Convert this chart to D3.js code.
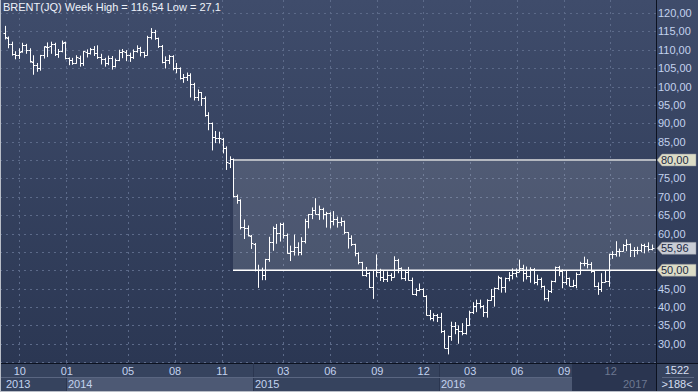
<!DOCTYPE html>
<html><head><meta charset="utf-8">
<script src="https://cdn.jsdelivr.net/npm/d3@7"></script>
<style>body{margin:0;background:#fff}svg{display:block}text{font-family:"Liberation Sans",Arial,sans-serif}</style>
</head><body><svg id="c" width="698" height="392"></svg>
<script>
// ---- data (weekly OHLC, Brent) ----
const firstWeek = "2013-09-02";
const opens = [114.5,113.3,111.6,108.9,108.5,109.6,111.2,109.8,106.8,105.9,105.0,108.5,110.8,110.9,111.5,108.8,109.6,112.0,107.8,107.2,106.4,107.8,106.3,109.5,109.0,110.1,109.0,108.0,107.4,106.4,107.7,105.7,107.2,109.5,109.5,108.6,107.9,109.7,110.4,109.4,108.6,113.4,114.8,113.2,110.9,106.7,107.2,108.3,105.0,104.9,102.2,102.6,103.1,100.7,97.1,98.4,96.9,92.3,90.1,86.3,86.0,85.8,83.3,79.3,80.3,70.1,69.0,61.8,61.4,59.4,57.2,50.0,50.1,48.8,53.0,57.8,61.5,60.2,62.6,59.7,54.7,55.3,56.4,55.0,57.9,63.5,65.3,66.5,65.4,66.8,65.4,65.6,63.3,63.9,63.0,63.3,60.3,58.7,57.1,54.6,52.2,48.6,49.2,45.5,50.1,49.6,48.1,47.5,48.6,48.1,52.7,50.5,48.0,49.6,47.4,43.6,44.7,44.9,43.0,37.9,36.9,37.9,37.3,33.6,28.9,32.2,34.7,34.1,33.4,33.0,35.1,38.7,40.4,41.2,40.4,38.7,41.9,43.1,45.1,48.0,45.4,47.8,48.7,49.3,49.6,50.5,49.2,48.4,50.4,46.8,47.6,45.7,42.5,44.3,47.0,50.9,49.9,46.8,48.0,45.8,45.9,49.1,51.9,52.0,51.8,49.7,45.6,44.8,46.9,47.2,54.5,54.3,55.2,55.2,56.8,57.1,55.5,55.5,55.5,56.8,56.7,55.8];
const highs = [116.5,113.6,112.2,109.6,110.4,111.9,111.6,110.4,108.5,106.4,108.6,110.9,112.0,112.2,111.9,110.2,112.5,112.2,107.9,107.8,108.5,108.4,109.7,110.1,110.5,111.0,111.2,108.9,107.8,108.4,108.3,107.6,110.0,110.2,109.9,109.2,110.1,111.2,110.8,109.5,113.8,115.9,115.4,113.3,111.3,108.2,108.6,108.5,106.4,105.2,103.4,103.8,103.6,101.0,99.2,98.5,97.3,93.0,90.2,87.9,87.7,86.0,83.7,81.0,80.4,70.6,69.3,63.8,62.2,59.6,57.4,51.5,50.7,53.1,59.1,61.9,62.6,62.9,62.9,60.0,56.7,59.7,57.6,59.0,64.0,65.3,67.1,69.6,67.6,67.0,65.9,65.8,66.1,64.6,64.4,63.5,60.4,59.5,57.2,54.9,52.3,50.9,49.5,50.1,54.3,50.4,49.9,49.7,49.2,53.8,53.1,50.8,50.0,50.9,48.0,45.1,46.4,45.1,43.2,39.2,38.3,38.1,38.4,33.7,32.2,36.0,35.9,35.0,35.6,37.0,39.0,41.3,42.0,42.0,40.5,42.1,44.9,45.3,48.5,48.1,48.0,49.5,50.5,50.5,52.9,51.5,51.0,50.8,50.6,48.8,48.0,45.8,44.6,47.2,51.0,51.2,50.2,50.0,48.0,47.4,49.4,52.3,53.7,53.0,52.2,49.9,46.7,49.2,49.8,54.5,55.2,57.9,55.9,57.1,58.4,57.3,56.3,56.4,57.2,57.2,57.6,57.0];
const lows = [112.8,110.4,108.4,107.4,107.5,109.2,108.9,106.5,103.2,104.0,104.3,107.6,108.0,108.9,108.3,107.8,109.3,107.4,105.8,105.9,106.2,105.4,105.6,107.9,108.7,108.3,107.5,106.0,105.4,105.8,104.6,105.2,106.9,107.7,106.9,106.7,107.5,109.2,108.2,107.8,108.4,112.8,112.7,110.5,106.3,104.9,106.1,104.4,103.6,101.9,101.0,101.5,97.0,96.2,96.1,94.7,91.8,88.1,82.6,84.6,84.5,81.8,77.3,77.8,69.8,68.1,61.1,58.5,59.2,55.8,49.7,45.2,47.3,47.3,52.3,55.3,57.2,57.8,58.6,54.5,52.5,54.0,54.0,54.1,57.3,61.4,63.9,65.2,63.7,63.8,61.6,61.4,62.2,61.6,62.0,59.8,55.9,56.6,53.8,51.6,48.4,48.2,45.2,42.2,48.2,47.1,46.8,46.8,47.1,48.0,49.2,47.5,47.1,47.2,43.3,43.0,44.3,42.7,37.7,36.4,36.1,35.9,32.9,28.8,27.1,30.8,32.6,30.0,32.3,32.5,34.9,38.1,38.6,39.6,37.3,37.1,41.7,40.1,44.7,43.9,43.9,47.0,47.5,48.1,49.5,46.9,47.5,46.6,46.2,45.9,45.1,41.8,41.5,43.8,46.7,48.4,45.1,46.0,45.7,45.4,45.1,48.9,51.1,50.5,49.3,45.4,43.3,44.1,46.7,45.5,53.1,53.7,53.7,55.1,55.2,53.6,53.6,54.3,54.9,54.6,55.1,55.4];
const closes = [113.4,111.7,108.9,108.6,109.5,111.3,109.9,106.9,105.9,105.1,108.5,110.9,110.8,111.6,108.8,109.6,111.9,107.8,107.3,106.5,107.9,106.4,109.6,109.1,110.1,109.1,108.1,107.4,106.4,107.8,105.7,107.3,109.5,109.6,108.6,107.9,109.7,110.5,109.4,108.6,113.4,114.8,113.3,111.0,106.7,107.2,108.4,105.0,105.0,102.3,102.6,103.2,100.8,97.1,98.4,97.0,92.3,90.2,86.2,86.1,85.9,83.4,79.4,80.4,70.2,69.1,61.9,61.4,59.5,57.3,50.1,50.2,48.8,53.0,57.8,61.5,60.2,62.6,59.7,54.7,55.3,56.4,55.0,57.9,63.5,65.3,66.5,65.4,66.8,65.4,65.6,63.3,63.9,63.0,63.3,60.3,58.7,57.1,54.6,52.2,48.6,49.2,45.5,50.1,49.6,48.1,47.5,48.6,48.1,52.7,50.5,48.0,49.6,47.4,43.6,44.7,44.9,43.0,37.9,36.9,37.9,37.3,33.6,28.9,32.2,34.7,34.1,33.4,33.0,35.1,38.7,40.4,41.2,40.4,38.7,41.9,43.1,45.1,48.1,45.4,47.8,48.7,49.3,49.6,50.5,49.2,48.4,50.4,46.8,47.6,45.7,42.5,44.3,47.0,50.9,49.9,46.8,48.0,45.8,45.9,49.1,51.9,52.0,51.8,49.7,45.6,44.8,46.9,47.2,54.5,54.3,55.2,55.2,56.8,57.1,55.5,55.5,55.5,56.8,56.7,55.8,55.96];
const yTicks = [30,35,40,45,50,55,60,65,70,75,80,85,90,95,100,105,110,115,120];
const monthTicks = ["2013-10-01","2014-01-01","2014-05-01","2014-08-01","2014-11-01","2015-03-01","2015-06-01","2015-09-01","2015-12-01","2016-03-01","2016-06-01","2016-09-01","2016-12-01"];
const yearStarts = ["2013-09-01","2014-01-01","2015-01-01","2016-01-01","2017-01-01"];
const zoneLow = 50, zoneHigh = 80;
const lastPrice = 55.96;
const titleText = "BRENT(JQ) Week High = 116,54 Low = 27,1";
const cornerTop = "1522", cornerBottom = ">188<";

// ---- layout ----
const W = 698, H = 392, plotR = 656, plotB = 363;
const parse = d3.timeParse("%Y-%m-%d");
const t0 = parse(firstWeek);
const dates = closes.map((_, i) => d3.timeDay.offset(t0, 7 * i));
const data = dates.map((d, i) => ({d, o: opens[i], h: highs[i], l: lows[i], c: closes[i]}));

const x = d3.scaleTime().domain([t0, dates[dates.length - 1]]).range([4.5, 651.5]);
const y = d3.scaleLinear().domain([30, 120]).range([343.75, 13]);

const svg = d3.select("#c");
const defs = svg.append("defs");
const g1 = defs.append("linearGradient").attr("id", "bg").attr("x1", 0).attr("y1", 0).attr("x2", 0).attr("y2", 1);
g1.append("stop").attr("offset", 0).attr("stop-color", "#3f4c6b");
g1.append("stop").attr("offset", 1).attr("stop-color", "#2b3753");
const clip = defs.append("clipPath").attr("id", "pc");
clip.append("rect").attr("x", 0).attr("y", 0).attr("width", plotR).attr("height", plotB);

// backgrounds
svg.append("rect").attr("x", 0).attr("y", 0).attr("width", plotR).attr("height", plotB).attr("fill", "url(#bg)");
svg.append("rect").attr("x", plotR).attr("y", 0).attr("width", W - plotR).attr("height", plotB).attr("fill", "url(#bg)");
svg.append("rect").attr("x", 0).attr("y", plotB).attr("width", W).attr("height", H - plotB).attr("fill", "#36435e");

// grid
const grid = svg.append("g").attr("clip-path", "url(#pc)").attr("stroke", "#5c6a89").attr("stroke-dasharray", "2,4").attr("stroke-width", 1);
grid.selectAll("line.h").data(yTicks.concat([25])).join("line")
  .attr("x1", 0).attr("x2", plotR).attr("y1", d => Math.round(y(d)) + 0.5).attr("y2", d => Math.round(y(d)) + 0.5);
const mt = monthTicks.map(parse);
grid.selectAll("line.v").data(mt).join("line")
  .attr("x1", d => Math.round(x(d)) + 0.5).attr("x2", d => Math.round(x(d)) + 0.5).attr("y1", 0).attr("y2", plotB);

// zone rectangle
const zx0 = 233;
svg.append("rect").attr("x", zx0 - 3).attr("y", y(zoneHigh)).attr("width", 3).attr("height", y(zoneLow) - y(zoneHigh)).attr("fill", "#2a3550").attr("opacity", 0.35);
svg.append("rect").attr("x", zx0).attr("y", y(zoneHigh)).attr("width", plotR - zx0).attr("height", y(zoneLow) - y(zoneHigh))
  .attr("fill", "#ffffff").attr("opacity", 0.13);
svg.append("line").attr("x1", zx0).attr("x2", plotR).attr("y1", y(zoneHigh)).attr("y2", y(zoneHigh)).attr("stroke", "#b4b8c0").attr("stroke-width", 2);
svg.append("line").attr("x1", zx0).attr("x2", plotR).attr("y1", y(zoneLow)).attr("y2", y(zoneLow)).attr("stroke", "#ffffff").attr("stroke-width", 1.5);

// OHLC bars
const bars = svg.append("g").attr("clip-path", "url(#pc)").attr("stroke", "#ffffff").attr("stroke-width", 1).attr("fill", "none");
bars.selectAll("path").data(data).join("path")
  .attr("d", d => {
    const cx = Math.round(x(d.d)) + 0.5;
    return `M${cx},${y(d.h)}V${y(d.l)}M${cx - 2},${Math.round(y(d.o)) + 0.5}H${cx}M${cx},${Math.round(y(d.c)) + 0.5}H${cx + 2}`;
  });

// title
svg.append("text").attr("x", 3).attr("y", 11).attr("fill", "#eef2fa").attr("font-size", 11).text(titleText);

// separator lines
svg.append("line").attr("x1", plotR + 0.5).attr("x2", plotR + 0.5).attr("y1", 0).attr("y2", H).attr("stroke", "#0c1220").attr("stroke-width", 1);
svg.append("line").attr("x1", 0).attr("x2", W).attr("y1", plotB + 0.5).attr("y2", plotB + 0.5).attr("stroke", "#0c1220").attr("stroke-width", 1);

// right axis (labels hidden behind the price tags are left out)
const tagged = [zoneLow, zoneHigh, 55];
const yAxis = d3.axisRight(y).tickValues(yTicks.filter(v => !tagged.includes(v))).tickSize(0).tickPadding(2).tickFormat(d => d3.format(".2f")(d).replace(".", ","));
const ya = svg.append("g").attr("transform", `translate(${plotR},0)`).call(yAxis);
ya.select(".domain").remove();
ya.selectAll("text").attr("fill", "#c3d2ee").attr("font-size", 11).attr("font-family", "Liberation Sans, Arial, sans-serif");

// price tags
function tag(v, fill) {
  const ty = y(v);
  svg.append("path").attr("d", `M${plotR + 1},${ty}L${plotR + 6},${ty - 6}H${W - 2}V${ty + 6}H${plotR + 6}Z`)
    .attr("fill", fill).attr("stroke", "#8a8f98").attr("stroke-width", 0.5);
  svg.append("text").attr("x", plotR + 5).attr("y", ty + 4).attr("fill", "#1d2a44").attr("font-size", 11)
    .text(d3.format(".2f")(v).replace(".", ","));
}
tag(zoneHigh, "#dcdcc6");
tag(lastPrice, "#c9cdd5");
tag(zoneLow, "#dcdcc6");

// bottom axis: year bands
const ys = yearStarts.map(parse);
const bandFill = ["#36435e", "#4d5974", "#36435e", "#4d5974"];
const bandX = ys.map(d => Math.max(0, Math.round(x(d))));
for (let i = 0; i < 4; i++) {
  svg.append("rect").attr("x", bandX[i]).attr("y", 377).attr("width", (i < 3 ? bandX[i + 1] : 572) - bandX[i]).attr("height", 14).attr("fill", bandFill[i]);
  svg.append("line").attr("x1", bandX[i] + 0.5).attr("x2", bandX[i] + 0.5).attr("y1", plotB).attr("y2", H).attr("stroke", "#2b3650").attr("opacity", i ? 1 : 0);
}
svg.append("line").attr("x1", 0).attr("x2", 572).attr("y1", 377.5).attr("y2", 377.5).attr("stroke", "#5a6681");
svg.append("rect").attr("x", 572).attr("y", plotB + 1).attr("width", plotR - 572).attr("height", H - plotB - 1).attr("fill", "#2a3550");

const xAxis = d3.axisBottom(x).tickValues(mt).tickSize(0).tickPadding(0).tickFormat(d3.timeFormat("%m"));
const xa = svg.append("g").attr("transform", `translate(0,${plotB + 2})`).call(xAxis);
xa.select(".domain").remove();
xa.selectAll("text").attr("fill", d => x(d) > 572 ? "#6d7891" : "#c3d2ee").attr("font-size", 11).attr("font-family", "Liberation Sans, Arial, sans-serif").attr("dy", "0.9em");

const yearAxis = d3.axisBottom(x).tickValues(ys).tickSize(0).tickFormat(d3.timeFormat("%Y"));
const yra = svg.append("g").attr("transform", `translate(0,377)`).call(yearAxis);
yra.select(".domain").remove();
yra.selectAll(".tick").attr("transform", d => `translate(${Math.max(0, Math.round(x(d))) + 2},0)`);
yra.selectAll("text").attr("text-anchor", "start").attr("y", 11).attr("dy", 0).attr("fill", d => x(d) > 572 ? "#6d7891" : "#c3d2ee").attr("font-size", 11).attr("font-family", "Liberation Sans, Arial, sans-serif");
yra.selectAll(".tick").filter(d => d.getFullYear() === 2017).attr("transform", `translate(623,0)`);

// corner box
svg.append("text").attr("x", 677).attr("y", 374).attr("text-anchor", "middle").attr("fill", "#d6dff0").attr("font-size", 11).text(cornerTop);
svg.append("line").attr("x1", 662).attr("x2", 694).attr("y1", 377.5).attr("y2", 377.5).attr("stroke", "#5a6681");
svg.append("text").attr("x", 677).attr("y", 388).attr("text-anchor", "middle").attr("fill", "#d6dff0").attr("font-size", 11).text(cornerBottom);

// outer frame
svg.append("line").attr("x1", 0.5).attr("x2", 0.5).attr("y1", 0).attr("y2", H).attr("stroke", "#b9bec8");
svg.append("line").attr("x1", 0).attr("x2", W).attr("y1", H - 0.5).attr("y2", H - 0.5).attr("stroke", "#b9bec8");
</script></body></html>
